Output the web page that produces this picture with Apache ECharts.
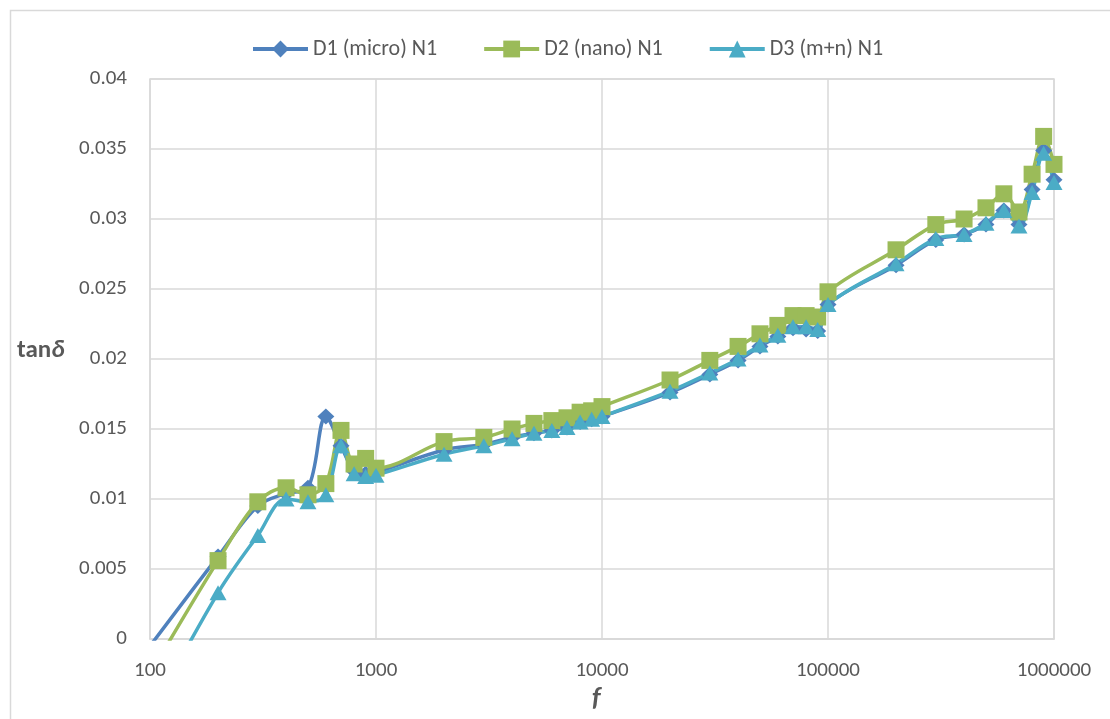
<!DOCTYPE html>
<html>
<head>
<meta charset="utf-8">
<title>tanδ vs f</title>
<script src="https://cdn.jsdelivr.net/npm/echarts@6/dist/echarts.min.js"></script>
<style>
  html, body { margin: 0; padding: 0; background: #ffffff; }
  #chart { width: 1110px; height: 719px; }
</style>
</head>
<body>
<div id="chart"></div>
<script>
// Frequency points (Hz)
const freq = [
  100, 200, 300, 400, 500, 600, 700, 800, 900, 1000,
  2000, 3000, 4000, 5000, 6000, 7000, 8000, 9000, 10000,
  20000, 30000, 40000, 50000, 60000, 70000, 80000, 90000, 100000,
  200000, 300000, 400000, 500000, 600000, 700000, 800000, 900000, 1000000
];

// Loss tangent per sample
const d1Micro = [
  -0.0005, 0.0059, 0.0095, 0.0104, 0.0108, 0.0159, 0.0138, 0.0120, 0.0118, 0.0119,
  0.0135, 0.0139, 0.0144, 0.0147, 0.0149, 0.0151, 0.0155, 0.0157, 0.0159,
  0.0176, 0.0189, 0.0199, 0.0209, 0.0216, 0.0222, 0.0221, 0.0220, 0.0239,
  0.0267, 0.0285, 0.0289, 0.0296, 0.0306, 0.0296, 0.0321, 0.0349, 0.0328
];
const d2Nano = [
  -0.0025, 0.0056, 0.0098, 0.0108, 0.0103, 0.0111, 0.0149, 0.0125, 0.0129, 0.0122,
  0.0141, 0.0144, 0.0150, 0.0154, 0.0156, 0.0158, 0.0162, 0.0163, 0.0166,
  0.0185, 0.0199, 0.0209, 0.0218, 0.0224, 0.0231, 0.0231, 0.0230, 0.0248,
  0.0278, 0.0296, 0.0300, 0.0308, 0.0318, 0.0305, 0.0332, 0.0359, 0.0339
];
const d3MicroNano = [
  -0.0055, 0.0033, 0.0074, 0.0100, 0.0098, 0.0103, 0.0138, 0.0118, 0.0116, 0.0117,
  0.0132, 0.0138, 0.0143, 0.0147, 0.0149, 0.0151, 0.0155, 0.0157, 0.0159,
  0.0177, 0.0190, 0.0200, 0.0210, 0.0217, 0.0223, 0.0223, 0.0221, 0.0239,
  0.0268, 0.0286, 0.0289, 0.0297, 0.0306, 0.0295, 0.0319, 0.0347, 0.0326
];

const seriesNames = ['D1 (micro) N1', 'D2 (nano) N1', 'D3 (m+n) N1'];

const FONT = 'Carlito, Lato, "Liberation Sans", sans-serif';
const TEXT = '#595959';
const GRID = '#d9d9d9';

function pairs(values) {
  return freq.map((f, i) => [f, values[i]]);
}

function lineSeries(name, values, color, symbol, size) {
  return {
    name: name,
    type: 'line',
    data: pairs(values),
    smooth: 0.35,
    clip: true,
    symbol: symbol,
    symbolSize: size,
    showAllSymbol: true,
    lineStyle: { color: color, width: 3.5 },
    itemStyle: { color: color },
    emphasis: { disabled: true }
  };
}

const chart = echarts.init(document.getElementById('chart'), null, { renderer: 'canvas' });

chart.setOption({
  backgroundColor: '#ffffff',
  animation: false,
  textStyle: { fontFamily: FONT },
  legend: {
    top: 33,
    left: 246,
    itemWidth: 55,
    itemHeight: 21,
    itemGap: 45,
    lineStyle: { width: 4 },
    textStyle: { fontFamily: FONT, fontSize: 22, color: TEXT },
    data: seriesNames
  },
  grid: {
    left: 150, right: 56, top: 79, bottom: 80,
    show: true, borderColor: GRID, borderWidth: 1.5, backgroundColor: 'transparent'
  },
  xAxis: {
    type: 'log',
    logBase: 10,
    min: 100,
    max: 1000000,
    axisLine: { show: true, lineStyle: { color: GRID, width: 1.5 } },
    axisTick: { show: false },
    splitLine: { show: true, lineStyle: { color: GRID, width: 1.5 } },
    minorTick: { show: false },
    axisLabel: {
      fontFamily: FONT, fontSize: 21, color: TEXT, margin: 21,
      formatter: v => String(Math.round(v))
    }
  },
  yAxis: {
    type: 'value',
    min: 0,
    max: 0.04,
    interval: 0.005,
    axisLine: { show: false },
    axisTick: { show: false },
    splitLine: { show: true, lineStyle: { color: GRID, width: 1.5 } },
    axisLabel: { fontFamily: FONT, fontSize: 21, color: TEXT, margin: 23 }
  },
  graphic: [
    {
      type: 'rect',
      left: 8, top: 8,
      shape: { width: 1200, height: 800 },
      style: { fill: 'none', stroke: GRID, lineWidth: 1.5 },
      silent: true
    },
    {
      type: 'text',
      left: 17, top: 338,
      style: {
        text: '{a|tan}{b|δ}',
        rich: {
          a: { fontFamily: FONT, fontSize: 25, fontWeight: 'bold', fill: TEXT, color: TEXT },
          b: { fontFamily: FONT, fontSize: 25, fontWeight: 'bold', fontStyle: 'italic', fill: TEXT, color: TEXT }
        }
      }
    },
    {
      type: 'text',
      left: 592, top: 686,
      style: {
        text: 'f',
        fontFamily: FONT, fontSize: 27, fontWeight: 'bold', fontStyle: 'italic', fill: TEXT
      }
    }
  ],
  series: [
    lineSeries(seriesNames[0], d1Micro, '#4F81BD', 'diamond', [17, 16]),
    lineSeries(seriesNames[1], d2Nano, '#9BBB59', 'rect', 17),
    lineSeries(seriesNames[2], d3MicroNano, '#4BACC6', 'triangle', [17, 15])
  ]
});
</script>
</body>
</html>
